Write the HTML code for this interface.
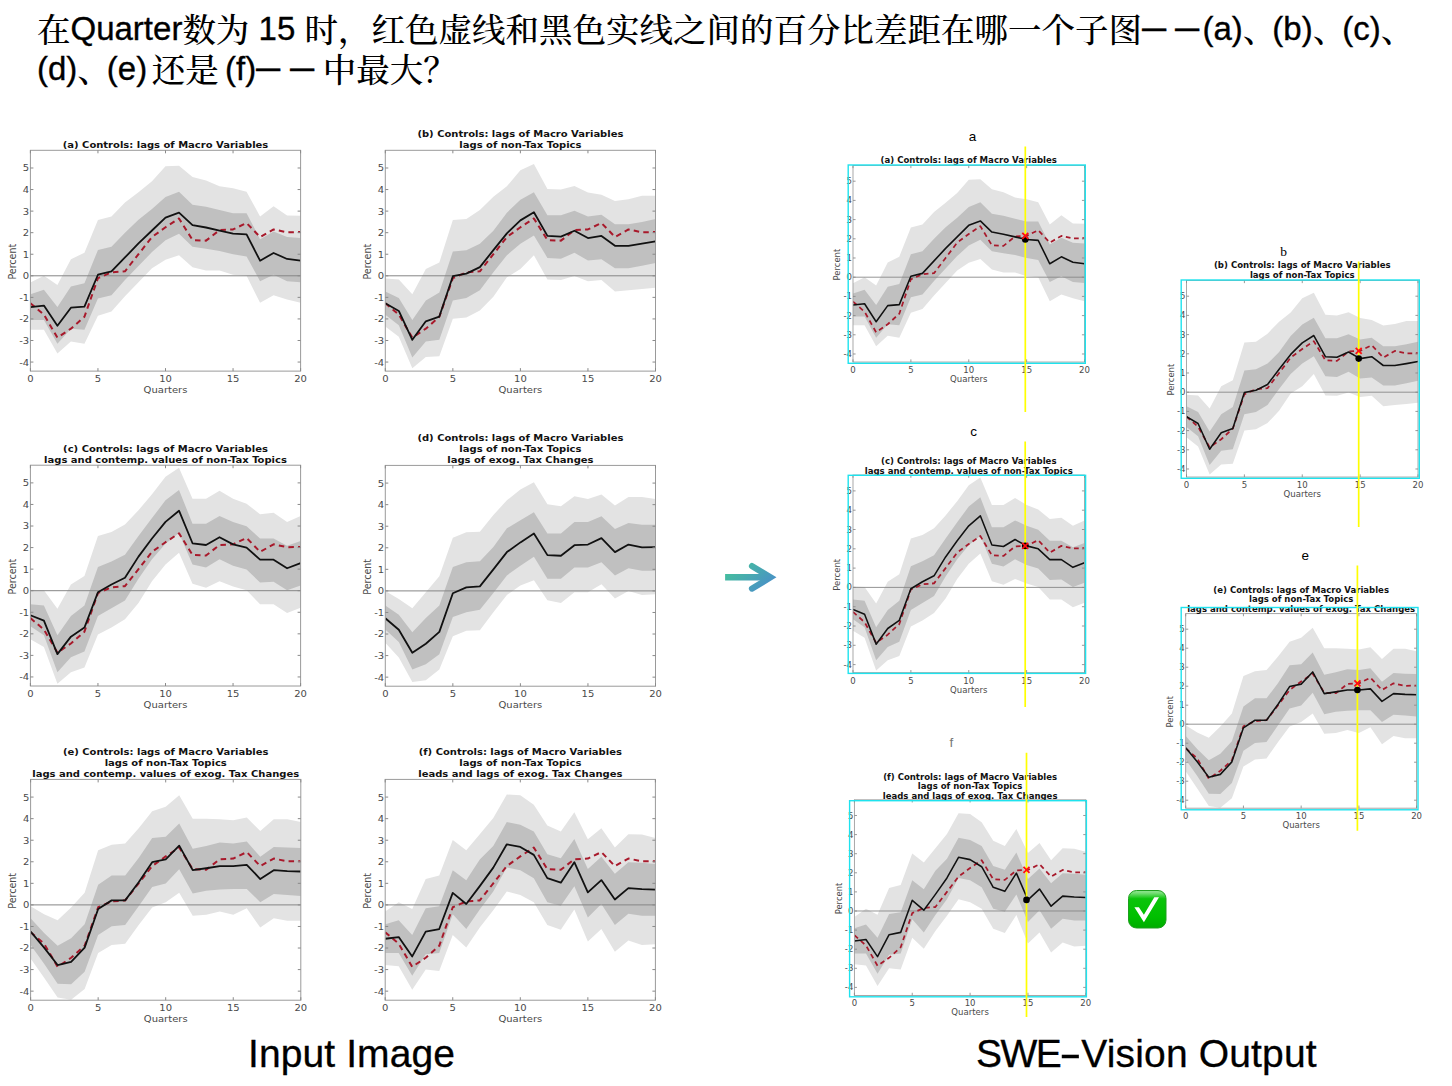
<!DOCTYPE html>
<html><head><meta charset="utf-8"><title>chart</title>
<style>
html,body{margin:0;padding:0;background:#fff;}
body{width:1452px;height:1086px;position:relative;overflow:hidden;}
.t{position:absolute;left:37px;font-family:"Liberation Sans","Noto Serif CJK SC",serif;font-size:33px;line-height:40px;color:#000;white-space:nowrap;-webkit-text-stroke:0.35px #000;}
.c{font-family:"Noto Serif CJK SC",serif;font-size:33.5px;font-weight:500;-webkit-text-stroke:0;position:relative;top:2.5px;}
.cm{display:inline-block;width:29.5px;overflow:visible;}
.dh{display:inline-block;}
.dh span{display:inline-block;transform:scaleX(0.735);transform-origin:0 0;position:relative;top:-1.5px;}
.hy{display:inline-block;width:21px;}
.hy span{display:inline-block;transform:scaleX(1.75);transform-origin:0 0;margin-left:-1px;}
.lab{position:absolute;top:1031.9px;font-family:"Liberation Sans",sans-serif;font-size:39px;line-height:44px;-webkit-text-stroke:0.3px #000;color:#000;white-space:nowrap;}
</style></head><body>
<svg width="1452" height="1086" viewBox="0 0 1452 1086" style="position:absolute;left:0;top:0">
<defs><linearGradient id="cg" x1="0" y1="0" x2="0" y2="1"><stop offset="0" stop-color="#8fe68f"/><stop offset="0.06" stop-color="#7cdf7c"/><stop offset="0.22" stop-color="#0bc40b"/><stop offset="0.7" stop-color="#00bf00"/><stop offset="1" stop-color="#00ad00"/></linearGradient><linearGradient id="ag" gradientUnits="userSpaceOnUse" x1="735" y1="560" x2="765" y2="595"><stop offset="0" stop-color="#45c39a"/><stop offset="1" stop-color="#4a8ccb"/></linearGradient></defs>
<g transform="translate(30.4,150.31)">
<clipPath id="cp0"><rect x="0" y="0" width="270.2" height="220.8"/></clipPath>
<g clip-path="url(#cp0)">
<polygon points="0.00,132.18 13.51,125.49 27.02,134.77 40.53,108.89 54.04,102.42 67.55,69.65 81.06,66.20 94.57,52.18 108.08,41.83 121.59,30.83 135.10,15.96 148.61,15.53 162.12,26.74 175.63,30.19 189.14,36.01 202.65,37.95 216.16,41.40 229.67,66.20 243.18,55.85 256.69,65.12 270.20,65.55 270.20,152.45 256.69,149.21 243.18,144.90 229.67,152.45 216.16,125.49 202.65,124.42 189.14,120.10 175.63,120.10 162.12,116.87 148.61,105.01 135.10,109.32 121.59,117.95 108.08,131.96 94.57,145.98 81.06,161.07 67.55,165.38 54.04,193.42 40.53,191.26 27.02,203.12 13.51,179.40 0.00,179.40" fill="#e3e3e3"/>
<polygon points="0.00,143.82 13.51,139.51 27.02,156.76 40.53,136.28 54.04,133.04 67.55,99.62 81.06,96.38 94.57,82.37 108.08,69.43 121.59,58.65 135.10,46.79 148.61,41.40 162.12,54.34 175.63,56.49 189.14,59.73 202.65,62.96 216.16,62.96 229.67,88.84 243.18,81.29 256.69,86.68 270.20,87.76 270.20,131.96 256.69,130.88 243.18,124.42 229.67,130.88 216.16,106.09 202.65,103.93 189.14,100.70 175.63,98.54 162.12,96.38 148.61,83.45 135.10,89.92 121.59,101.78 108.08,115.79 94.57,129.81 81.06,144.90 67.55,148.13 54.04,179.40 40.53,178.32 27.02,193.42 13.51,169.70 0.00,169.70" fill="#c0c0c0"/>
<line x1="0" y1="125.49" x2="270.2" y2="125.49" stroke="#858585" stroke-width="1"/>
<polyline points="0.00,152.88 13.51,164.31 27.02,187.38 40.53,178.32 54.04,166.46 67.55,127.87 81.06,122.04 94.57,120.97 108.08,103.93 121.59,86.68 135.10,76.98 148.61,68.14 162.12,89.70 175.63,90.35 189.14,79.78 202.65,79.13 216.16,72.67 229.67,86.68 243.18,79.13 256.69,81.94 270.20,81.72" fill="none" stroke="#a8192b" stroke-width="2" stroke-dasharray="5.5,4.2" stroke-linejoin="round"/>
<polyline points="0.00,156.76 13.51,155.25 27.02,175.52 40.53,157.41 54.04,156.33 67.55,124.42 81.06,121.18 94.57,107.17 108.08,93.15 121.59,80.21 135.10,67.28 148.61,62.32 162.12,74.82 175.63,77.19 189.14,80.21 202.65,83.23 216.16,84.09 229.67,110.40 243.18,102.64 256.69,108.67 270.20,110.40" fill="none" stroke="#111" stroke-width="1.8" stroke-linejoin="round"/>
</g>
<rect x="0" y="0" width="270.2" height="220.8" fill="none" stroke="#9a9a9a" stroke-width="1"/>
<path d="M0,211.74h3M270.2,211.74h-3M0,190.18h3M270.2,190.18h-3M0,168.62h3M270.2,168.62h-3M0,147.06h3M270.2,147.06h-3M0,125.49h3M270.2,125.49h-3M0,103.93h3M270.2,103.93h-3M0,82.37h3M270.2,82.37h-3M0,60.81h3M270.2,60.81h-3M0,39.24h3M270.2,39.24h-3M0,17.68h3M270.2,17.68h-3M0.00,220.8v-3M0.00,0v3M67.55,220.8v-3M67.55,0v3M135.10,220.8v-3M135.10,0v3M202.65,220.8v-3M202.65,0v3M270.20,220.8v-3M270.20,0v3" stroke="#8a8a8a" stroke-width="1" fill="none"/>
<g font-family="'DejaVu Sans', sans-serif" font-size="10" fill="#4a4a4a">
<text transform="translate(-1.2,215.19) scale(1,0.92)" text-anchor="end">-4</text>
<text transform="translate(-1.2,193.63) scale(1,0.92)" text-anchor="end">-3</text>
<text transform="translate(-1.2,172.07) scale(1,0.92)" text-anchor="end">-2</text>
<text transform="translate(-1.2,150.51) scale(1,0.92)" text-anchor="end">-1</text>
<text transform="translate(-1.2,128.94) scale(1,0.92)" text-anchor="end">0</text>
<text transform="translate(-1.2,107.38) scale(1,0.92)" text-anchor="end">1</text>
<text transform="translate(-1.2,85.82) scale(1,0.92)" text-anchor="end">2</text>
<text transform="translate(-1.2,64.26) scale(1,0.92)" text-anchor="end">3</text>
<text transform="translate(-1.2,42.69) scale(1,0.92)" text-anchor="end">4</text>
<text transform="translate(-1.2,21.13) scale(1,0.92)" text-anchor="end">5</text>
<text transform="translate(0.00,231.30) scale(1,0.92)" text-anchor="middle">0</text>
<text transform="translate(67.55,231.30) scale(1,0.92)" text-anchor="middle">5</text>
<text transform="translate(135.10,231.30) scale(1,0.92)" text-anchor="middle">10</text>
<text transform="translate(202.65,231.30) scale(1,0.92)" text-anchor="middle">15</text>
<text transform="translate(270.20,231.30) scale(1,0.92)" text-anchor="middle">20</text>
<text transform="translate(135.10,242.40) scale(1,0.92)" text-anchor="middle">Quarters</text>
<text transform="translate(-14.6,111.40) scale(1.0,0.95) rotate(-90)" text-anchor="middle">Percent</text>
</g>
<g font-family="'DejaVu Sans', sans-serif" font-size="10" font-weight="bold" fill="#111" text-anchor="middle">
<text transform="translate(135.10,-2.00) scale(1,0.92)">(a) Controls: lags of Macro Variables</text>
</g>
</g>
<g transform="translate(385.3,150.31)">
<clipPath id="cp1"><rect x="0" y="0" width="270.2" height="220.8"/></clipPath>
<g clip-path="url(#cp1)">
<polygon points="0.00,128.30 13.51,129.16 27.02,143.82 40.53,118.81 54.04,112.12 67.55,69.65 81.06,68.78 94.57,59.73 108.08,46.36 121.59,36.01 135.10,19.84 148.61,13.80 162.12,38.60 175.63,39.24 189.14,35.58 202.65,42.26 216.16,44.42 229.67,50.67 243.18,48.95 256.69,45.50 270.20,45.50 270.20,137.35 256.69,138.65 243.18,139.94 229.67,141.23 216.16,129.59 202.65,130.88 189.14,125.71 175.63,129.59 162.12,129.16 148.61,105.01 135.10,118.81 121.59,127.00 108.08,146.41 94.57,160.21 81.06,167.11 67.55,168.40 54.04,205.92 40.53,206.57 27.02,218.00 13.51,186.52 0.00,176.17" fill="#e3e3e3"/>
<polygon points="0.00,141.23 13.51,147.70 27.02,169.70 40.53,150.29 54.04,142.10 67.55,101.13 81.06,99.83 94.57,93.37 108.08,80.43 121.59,62.32 135.10,49.38 148.61,41.83 162.12,64.90 175.63,64.90 189.14,60.38 202.65,66.20 216.16,64.47 229.67,73.96 243.18,73.96 256.69,71.59 270.20,68.78 270.20,112.77 256.69,115.36 243.18,117.95 229.67,117.95 216.16,108.89 202.65,110.18 189.14,102.42 175.63,108.46 162.12,107.60 148.61,85.17 135.10,93.37 121.59,105.01 108.08,121.83 94.57,139.94 81.06,147.70 67.55,150.29 54.04,189.53 40.53,191.26 27.02,207.22 13.51,174.87 0.00,164.52" fill="#c0c0c0"/>
<line x1="0" y1="125.49" x2="270.2" y2="125.49" stroke="#858585" stroke-width="1"/>
<polyline points="0.00,152.88 13.51,164.31 27.02,187.38 40.53,178.32 54.04,166.46 67.55,127.87 81.06,122.04 94.57,120.97 108.08,103.93 121.59,86.68 135.10,76.98 148.61,68.14 162.12,89.70 175.63,90.35 189.14,79.78 202.65,79.13 216.16,72.67 229.67,86.68 243.18,79.13 256.69,81.94 270.20,81.72" fill="none" stroke="#a8192b" stroke-width="2" stroke-dasharray="5.5,4.2" stroke-linejoin="round"/>
<polyline points="0.00,152.88 13.51,160.64 27.02,189.53 40.53,170.99 54.04,166.25 67.55,125.92 81.06,123.34 94.57,116.87 108.08,99.83 121.59,83.02 135.10,70.08 148.61,61.88 162.12,85.60 175.63,86.25 189.14,80.43 202.65,87.76 216.16,85.60 229.67,95.52 243.18,95.52 256.69,93.37 270.20,90.99" fill="none" stroke="#111" stroke-width="1.8" stroke-linejoin="round"/>
</g>
<rect x="0" y="0" width="270.2" height="220.8" fill="none" stroke="#9a9a9a" stroke-width="1"/>
<path d="M0,211.74h3M270.2,211.74h-3M0,190.18h3M270.2,190.18h-3M0,168.62h3M270.2,168.62h-3M0,147.06h3M270.2,147.06h-3M0,125.49h3M270.2,125.49h-3M0,103.93h3M270.2,103.93h-3M0,82.37h3M270.2,82.37h-3M0,60.81h3M270.2,60.81h-3M0,39.24h3M270.2,39.24h-3M0,17.68h3M270.2,17.68h-3M0.00,220.8v-3M0.00,0v3M67.55,220.8v-3M67.55,0v3M135.10,220.8v-3M135.10,0v3M202.65,220.8v-3M202.65,0v3M270.20,220.8v-3M270.20,0v3" stroke="#8a8a8a" stroke-width="1" fill="none"/>
<g font-family="'DejaVu Sans', sans-serif" font-size="10" fill="#4a4a4a">
<text transform="translate(-1.2,215.19) scale(1,0.92)" text-anchor="end">-4</text>
<text transform="translate(-1.2,193.63) scale(1,0.92)" text-anchor="end">-3</text>
<text transform="translate(-1.2,172.07) scale(1,0.92)" text-anchor="end">-2</text>
<text transform="translate(-1.2,150.51) scale(1,0.92)" text-anchor="end">-1</text>
<text transform="translate(-1.2,128.94) scale(1,0.92)" text-anchor="end">0</text>
<text transform="translate(-1.2,107.38) scale(1,0.92)" text-anchor="end">1</text>
<text transform="translate(-1.2,85.82) scale(1,0.92)" text-anchor="end">2</text>
<text transform="translate(-1.2,64.26) scale(1,0.92)" text-anchor="end">3</text>
<text transform="translate(-1.2,42.69) scale(1,0.92)" text-anchor="end">4</text>
<text transform="translate(-1.2,21.13) scale(1,0.92)" text-anchor="end">5</text>
<text transform="translate(0.00,231.30) scale(1,0.92)" text-anchor="middle">0</text>
<text transform="translate(67.55,231.30) scale(1,0.92)" text-anchor="middle">5</text>
<text transform="translate(135.10,231.30) scale(1,0.92)" text-anchor="middle">10</text>
<text transform="translate(202.65,231.30) scale(1,0.92)" text-anchor="middle">15</text>
<text transform="translate(270.20,231.30) scale(1,0.92)" text-anchor="middle">20</text>
<text transform="translate(135.10,242.40) scale(1,0.92)" text-anchor="middle">Quarters</text>
<text transform="translate(-14.6,111.40) scale(1.0,0.95) rotate(-90)" text-anchor="middle">Percent</text>
</g>
<g font-family="'DejaVu Sans', sans-serif" font-size="10" font-weight="bold" fill="#111" text-anchor="middle">
<text transform="translate(135.10,-13.00) scale(1,0.92)">(b) Controls: lags of Macro Variables</text>
<text transform="translate(135.10,-2.00) scale(1,0.92)">lags of non-Tax Topics</text>
</g>
</g>
<g transform="translate(30.4,465.21)">
<clipPath id="cp2"><rect x="0" y="0" width="270.2" height="220.8"/></clipPath>
<g clip-path="url(#cp2)">
<polygon points="0.00,124.42 13.51,125.06 27.02,143.61 40.53,119.24 54.04,110.83 67.55,70.73 81.06,66.84 94.57,59.30 108.08,45.07 121.59,29.11 135.10,11.43 148.61,2.59 162.12,33.42 175.63,33.42 189.14,25.66 202.65,33.42 216.16,38.60 229.67,48.95 243.18,47.65 256.69,56.71 270.20,50.67 270.20,142.53 256.69,147.70 243.18,139.08 229.67,139.08 216.16,125.06 202.65,121.18 189.14,116.01 175.63,122.48 162.12,118.59 148.61,87.54 135.10,99.19 121.59,116.01 108.08,137.78 94.57,153.96 81.06,162.37 67.55,169.27 54.04,202.26 40.53,207.00 27.02,218.43 13.51,181.77 0.00,174.01" fill="#e3e3e3"/>
<polygon points="0.00,139.08 13.51,140.37 27.02,170.13 40.53,150.72 54.04,140.37 67.55,101.78 81.06,96.17 94.57,89.48 108.08,70.73 121.59,52.83 135.10,35.15 148.61,24.80 162.12,58.43 175.63,58.43 189.14,50.67 202.65,56.71 216.16,61.02 229.67,73.31 243.18,73.31 256.69,80.64 270.20,75.90 270.20,120.32 256.69,125.06 243.18,116.65 229.67,117.30 216.16,104.36 202.65,100.48 189.14,94.01 175.63,102.21 162.12,99.19 148.61,67.71 135.10,78.49 121.59,94.01 108.08,113.42 94.57,135.20 81.06,142.96 67.55,150.72 54.04,186.30 40.53,192.12 27.02,207.00 13.51,170.13 0.00,161.07" fill="#c0c0c0"/>
<line x1="0" y1="125.49" x2="270.2" y2="125.49" stroke="#858585" stroke-width="1"/>
<polyline points="0.00,152.88 13.51,164.31 27.02,187.38 40.53,178.32 54.04,166.46 67.55,127.87 81.06,122.04 94.57,120.97 108.08,103.93 121.59,86.68 135.10,76.98 148.61,68.14 162.12,89.70 175.63,90.35 189.14,79.78 202.65,79.13 216.16,72.67 229.67,86.68 243.18,79.13 256.69,81.94 270.20,81.72" fill="none" stroke="#a8192b" stroke-width="2" stroke-dasharray="5.5,4.2" stroke-linejoin="round"/>
<polyline points="0.00,150.07 13.51,155.47 27.02,188.89 40.53,171.42 54.04,162.37 67.55,127.00 81.06,119.24 94.57,112.56 108.08,91.43 121.59,73.31 135.10,56.71 148.61,45.50 162.12,78.06 175.63,79.78 189.14,72.02 202.65,79.13 216.16,82.37 229.67,94.44 243.18,94.44 256.69,103.07 270.20,97.89" fill="none" stroke="#111" stroke-width="1.8" stroke-linejoin="round"/>
</g>
<rect x="0" y="0" width="270.2" height="220.8" fill="none" stroke="#9a9a9a" stroke-width="1"/>
<path d="M0,211.74h3M270.2,211.74h-3M0,190.18h3M270.2,190.18h-3M0,168.62h3M270.2,168.62h-3M0,147.06h3M270.2,147.06h-3M0,125.49h3M270.2,125.49h-3M0,103.93h3M270.2,103.93h-3M0,82.37h3M270.2,82.37h-3M0,60.81h3M270.2,60.81h-3M0,39.24h3M270.2,39.24h-3M0,17.68h3M270.2,17.68h-3M0.00,220.8v-3M0.00,0v3M67.55,220.8v-3M67.55,0v3M135.10,220.8v-3M135.10,0v3M202.65,220.8v-3M202.65,0v3M270.20,220.8v-3M270.20,0v3" stroke="#8a8a8a" stroke-width="1" fill="none"/>
<g font-family="'DejaVu Sans', sans-serif" font-size="10" fill="#4a4a4a">
<text transform="translate(-1.2,215.19) scale(1,0.92)" text-anchor="end">-4</text>
<text transform="translate(-1.2,193.63) scale(1,0.92)" text-anchor="end">-3</text>
<text transform="translate(-1.2,172.07) scale(1,0.92)" text-anchor="end">-2</text>
<text transform="translate(-1.2,150.51) scale(1,0.92)" text-anchor="end">-1</text>
<text transform="translate(-1.2,128.94) scale(1,0.92)" text-anchor="end">0</text>
<text transform="translate(-1.2,107.38) scale(1,0.92)" text-anchor="end">1</text>
<text transform="translate(-1.2,85.82) scale(1,0.92)" text-anchor="end">2</text>
<text transform="translate(-1.2,64.26) scale(1,0.92)" text-anchor="end">3</text>
<text transform="translate(-1.2,42.69) scale(1,0.92)" text-anchor="end">4</text>
<text transform="translate(-1.2,21.13) scale(1,0.92)" text-anchor="end">5</text>
<text transform="translate(0.00,231.30) scale(1,0.92)" text-anchor="middle">0</text>
<text transform="translate(67.55,231.30) scale(1,0.92)" text-anchor="middle">5</text>
<text transform="translate(135.10,231.30) scale(1,0.92)" text-anchor="middle">10</text>
<text transform="translate(202.65,231.30) scale(1,0.92)" text-anchor="middle">15</text>
<text transform="translate(270.20,231.30) scale(1,0.92)" text-anchor="middle">20</text>
<text transform="translate(135.10,242.40) scale(1,0.92)" text-anchor="middle">Quarters</text>
<text transform="translate(-14.6,111.40) scale(1.0,0.95) rotate(-90)" text-anchor="middle">Percent</text>
</g>
<g font-family="'DejaVu Sans', sans-serif" font-size="10" font-weight="bold" fill="#111" text-anchor="middle">
<text transform="translate(135.10,-13.00) scale(1,0.92)">(c) Controls: lags of Macro Variables</text>
<text transform="translate(135.10,-2.00) scale(1,0.92)">lags and contemp. values of non-Tax Topics</text>
</g>
</g>
<g transform="translate(385.3,465.41)">
<clipPath id="cp3"><rect x="0" y="0" width="270.2" height="220.8"/></clipPath>
<g clip-path="url(#cp3)">
<polygon points="0.00,125.49 13.51,133.47 27.02,142.74 40.53,126.79 54.04,110.83 67.55,72.23 81.06,66.84 94.57,66.41 108.08,49.59 121.59,34.93 135.10,24.15 148.61,16.82 162.12,38.81 175.63,40.75 189.14,30.83 202.65,33.64 216.16,29.11 229.67,40.11 243.18,31.70 256.69,31.70 270.20,33.64 270.20,128.73 256.69,129.59 243.18,125.49 229.67,133.04 216.16,118.81 202.65,126.79 189.14,126.79 175.63,137.57 162.12,134.77 148.61,114.93 135.10,120.10 121.59,129.59 108.08,146.84 94.57,164.95 81.06,165.38 67.55,170.78 54.04,204.20 40.53,214.76 27.02,216.70 13.51,192.12 0.00,177.46" fill="#e3e3e3"/>
<polygon points="0.00,140.16 13.51,149.43 27.02,166.89 40.53,152.66 54.04,140.16 67.55,101.56 81.06,96.82 94.57,95.74 108.08,81.51 121.59,62.96 135.10,54.77 148.61,46.79 162.12,68.14 175.63,68.14 189.14,56.71 202.65,56.71 216.16,50.89 229.67,63.61 243.18,57.57 256.69,59.30 270.20,59.30 270.20,105.44 256.69,105.44 243.18,102.85 229.67,109.97 216.16,96.82 202.65,101.99 189.14,101.99 175.63,113.42 162.12,113.42 148.61,91.43 135.10,100.27 121.59,109.97 108.08,127.65 94.57,144.25 81.06,146.84 67.55,151.58 54.04,188.89 40.53,198.81 27.02,204.20 13.51,176.60 0.00,164.09" fill="#c0c0c0"/>
<line x1="0" y1="125.49" x2="270.2" y2="125.49" stroke="#858585" stroke-width="1"/>
<polyline points="0.00,152.88 13.51,164.31 27.02,187.38 40.53,178.32 54.04,166.46 67.55,127.87 81.06,122.04 94.57,120.97 108.08,103.93 121.59,86.68 135.10,76.98 148.61,68.14 162.12,89.70 175.63,90.35 189.14,79.78 202.65,79.13 216.16,72.67 229.67,86.68 243.18,79.13 256.69,81.94 270.20,81.72" fill="none" stroke="#111" stroke-width="1.8" stroke-linejoin="round"/>
</g>
<rect x="0" y="0" width="270.2" height="220.8" fill="none" stroke="#9a9a9a" stroke-width="1"/>
<path d="M0,211.74h3M270.2,211.74h-3M0,190.18h3M270.2,190.18h-3M0,168.62h3M270.2,168.62h-3M0,147.06h3M270.2,147.06h-3M0,125.49h3M270.2,125.49h-3M0,103.93h3M270.2,103.93h-3M0,82.37h3M270.2,82.37h-3M0,60.81h3M270.2,60.81h-3M0,39.24h3M270.2,39.24h-3M0,17.68h3M270.2,17.68h-3M0.00,220.8v-3M0.00,0v3M67.55,220.8v-3M67.55,0v3M135.10,220.8v-3M135.10,0v3M202.65,220.8v-3M202.65,0v3M270.20,220.8v-3M270.20,0v3" stroke="#8a8a8a" stroke-width="1" fill="none"/>
<g font-family="'DejaVu Sans', sans-serif" font-size="10" fill="#4a4a4a">
<text transform="translate(-1.2,215.19) scale(1,0.92)" text-anchor="end">-4</text>
<text transform="translate(-1.2,193.63) scale(1,0.92)" text-anchor="end">-3</text>
<text transform="translate(-1.2,172.07) scale(1,0.92)" text-anchor="end">-2</text>
<text transform="translate(-1.2,150.51) scale(1,0.92)" text-anchor="end">-1</text>
<text transform="translate(-1.2,128.94) scale(1,0.92)" text-anchor="end">0</text>
<text transform="translate(-1.2,107.38) scale(1,0.92)" text-anchor="end">1</text>
<text transform="translate(-1.2,85.82) scale(1,0.92)" text-anchor="end">2</text>
<text transform="translate(-1.2,64.26) scale(1,0.92)" text-anchor="end">3</text>
<text transform="translate(-1.2,42.69) scale(1,0.92)" text-anchor="end">4</text>
<text transform="translate(-1.2,21.13) scale(1,0.92)" text-anchor="end">5</text>
<text transform="translate(0.00,231.30) scale(1,0.92)" text-anchor="middle">0</text>
<text transform="translate(67.55,231.30) scale(1,0.92)" text-anchor="middle">5</text>
<text transform="translate(135.10,231.30) scale(1,0.92)" text-anchor="middle">10</text>
<text transform="translate(202.65,231.30) scale(1,0.92)" text-anchor="middle">15</text>
<text transform="translate(270.20,231.30) scale(1,0.92)" text-anchor="middle">20</text>
<text transform="translate(135.10,242.40) scale(1,0.92)" text-anchor="middle">Quarters</text>
<text transform="translate(-14.6,111.40) scale(1.0,0.95) rotate(-90)" text-anchor="middle">Percent</text>
</g>
<g font-family="'DejaVu Sans', sans-serif" font-size="10" font-weight="bold" fill="#111" text-anchor="middle">
<text transform="translate(135.10,-24.00) scale(1,0.92)">(d) Controls: lags of Macro Variables</text>
<text transform="translate(135.10,-13.00) scale(1,0.92)">lags of non-Tax Topics</text>
<text transform="translate(135.10,-2.00) scale(1,0.92)">lags of exog. Tax Changes</text>
</g>
</g>
<g transform="translate(30.6,779.41)">
<clipPath id="cp4"><rect x="0" y="0" width="270.2" height="220.8"/></clipPath>
<g clip-path="url(#cp4)">
<polygon points="0.00,126.79 13.51,134.77 27.02,140.80 40.53,128.08 54.04,113.42 67.55,70.73 81.06,65.33 94.57,64.04 108.08,48.73 121.59,31.91 135.10,27.38 148.61,15.96 162.12,39.24 175.63,39.24 189.14,39.89 202.65,40.75 216.16,38.17 229.67,51.53 243.18,39.89 256.69,39.89 270.20,42.69 270.20,141.45 256.69,141.45 243.18,138.86 229.67,148.13 216.16,128.94 202.65,135.41 189.14,132.18 175.63,135.41 162.12,136.28 148.61,113.42 135.10,122.91 121.59,128.08 108.08,145.55 94.57,164.31 81.06,165.60 67.55,173.58 54.04,209.59 40.53,220.37 27.02,218.21 13.51,198.37 0.00,178.97" fill="#e3e3e3"/>
<polygon points="0.00,138.86 13.51,153.53 27.02,166.46 40.53,158.92 54.04,144.90 67.55,105.44 81.06,96.17 94.57,96.17 108.08,78.70 121.59,58.65 135.10,57.36 148.61,43.99 162.12,69.43 175.63,66.63 189.14,63.18 202.65,64.04 216.16,62.10 229.67,77.41 243.18,67.49 256.69,68.14 270.20,68.57 270.20,116.65 256.69,115.58 243.18,114.71 229.67,122.91 216.16,109.54 202.65,109.54 189.14,110.18 175.63,111.26 162.12,114.07 148.61,89.92 135.10,104.15 121.59,107.60 108.08,126.79 94.57,145.55 81.06,146.84 67.55,155.68 54.04,192.34 40.53,204.84 27.02,204.41 13.51,184.36 0.00,165.60" fill="#c0c0c0"/>
<line x1="0" y1="125.49" x2="270.2" y2="125.49" stroke="#858585" stroke-width="1"/>
<polyline points="0.00,152.88 13.51,164.31 27.02,187.38 40.53,178.32 54.04,166.46 67.55,127.87 81.06,122.04 94.57,120.97 108.08,103.93 121.59,86.68 135.10,76.98 148.61,68.14 162.12,89.70 175.63,90.35 189.14,79.78 202.65,79.13 216.16,72.67 229.67,86.68 243.18,79.13 256.69,81.94 270.20,81.72" fill="none" stroke="#a8192b" stroke-width="2" stroke-dasharray="5.5,4.2" stroke-linejoin="round"/>
<polyline points="0.00,152.23 13.51,168.19 27.02,185.65 40.53,182.42 54.04,168.19 67.55,129.59 81.06,120.97 94.57,120.97 108.08,102.85 121.59,82.80 135.10,80.00 148.61,66.20 162.12,90.78 175.63,88.84 189.14,86.68 202.65,86.68 216.16,85.39 229.67,99.62 243.18,90.78 256.69,91.64 270.20,92.07" fill="none" stroke="#111" stroke-width="1.8" stroke-linejoin="round"/>
</g>
<rect x="0" y="0" width="270.2" height="220.8" fill="none" stroke="#9a9a9a" stroke-width="1"/>
<path d="M0,211.74h3M270.2,211.74h-3M0,190.18h3M270.2,190.18h-3M0,168.62h3M270.2,168.62h-3M0,147.06h3M270.2,147.06h-3M0,125.49h3M270.2,125.49h-3M0,103.93h3M270.2,103.93h-3M0,82.37h3M270.2,82.37h-3M0,60.81h3M270.2,60.81h-3M0,39.24h3M270.2,39.24h-3M0,17.68h3M270.2,17.68h-3M0.00,220.8v-3M0.00,0v3M67.55,220.8v-3M67.55,0v3M135.10,220.8v-3M135.10,0v3M202.65,220.8v-3M202.65,0v3M270.20,220.8v-3M270.20,0v3" stroke="#8a8a8a" stroke-width="1" fill="none"/>
<g font-family="'DejaVu Sans', sans-serif" font-size="10" fill="#4a4a4a">
<text transform="translate(-1.2,215.19) scale(1,0.92)" text-anchor="end">-4</text>
<text transform="translate(-1.2,193.63) scale(1,0.92)" text-anchor="end">-3</text>
<text transform="translate(-1.2,172.07) scale(1,0.92)" text-anchor="end">-2</text>
<text transform="translate(-1.2,150.51) scale(1,0.92)" text-anchor="end">-1</text>
<text transform="translate(-1.2,128.94) scale(1,0.92)" text-anchor="end">0</text>
<text transform="translate(-1.2,107.38) scale(1,0.92)" text-anchor="end">1</text>
<text transform="translate(-1.2,85.82) scale(1,0.92)" text-anchor="end">2</text>
<text transform="translate(-1.2,64.26) scale(1,0.92)" text-anchor="end">3</text>
<text transform="translate(-1.2,42.69) scale(1,0.92)" text-anchor="end">4</text>
<text transform="translate(-1.2,21.13) scale(1,0.92)" text-anchor="end">5</text>
<text transform="translate(0.00,231.30) scale(1,0.92)" text-anchor="middle">0</text>
<text transform="translate(67.55,231.30) scale(1,0.92)" text-anchor="middle">5</text>
<text transform="translate(135.10,231.30) scale(1,0.92)" text-anchor="middle">10</text>
<text transform="translate(202.65,231.30) scale(1,0.92)" text-anchor="middle">15</text>
<text transform="translate(270.20,231.30) scale(1,0.92)" text-anchor="middle">20</text>
<text transform="translate(135.10,242.40) scale(1,0.92)" text-anchor="middle">Quarters</text>
<text transform="translate(-14.6,111.40) scale(1.0,0.95) rotate(-90)" text-anchor="middle">Percent</text>
</g>
<g font-family="'DejaVu Sans', sans-serif" font-size="10" font-weight="bold" fill="#111" text-anchor="middle">
<text transform="translate(135.10,-24.00) scale(1,0.92)">(e) Controls: lags of Macro Variables</text>
<text transform="translate(135.10,-13.00) scale(1,0.92)">lags of non-Tax Topics</text>
<text transform="translate(135.10,-2.00) scale(1,0.92)">lags and contemp. values of exog. Tax Changes</text>
</g>
</g>
<g transform="translate(385.2,779.41)">
<clipPath id="cp5"><rect x="0" y="0" width="270.2" height="220.8"/></clipPath>
<g clip-path="url(#cp5)">
<polygon points="0.00,132.18 13.51,122.91 27.02,129.59 40.53,99.62 54.04,96.17 67.55,60.59 81.06,70.73 94.57,54.77 108.08,38.60 121.59,15.09 135.10,15.96 148.61,25.23 162.12,46.14 175.63,51.97 189.14,32.78 202.65,59.94 216.16,48.73 229.67,68.14 243.18,54.77 256.69,55.20 270.20,58.65 270.20,164.74 256.69,165.60 243.18,161.07 229.67,172.28 216.16,149.64 202.65,162.15 189.14,130.02 175.63,150.29 162.12,145.55 148.61,122.91 135.10,115.58 121.59,112.12 108.08,130.88 94.57,148.13 81.06,168.19 67.55,155.68 54.04,191.48 40.53,190.18 27.02,210.23 13.51,186.95 0.00,185.65" fill="#e3e3e3"/>
<polygon points="0.00,144.90 13.51,140.80 27.02,155.68 40.53,128.94 54.04,126.79 67.55,90.78 81.06,100.91 94.57,80.00 108.08,66.63 121.59,42.69 135.10,45.28 148.61,51.97 162.12,74.82 175.63,78.92 189.14,59.51 202.65,89.48 216.16,77.41 229.67,94.23 243.18,82.80 256.69,83.45 270.20,84.53 270.20,136.28 256.69,136.28 243.18,134.33 229.67,145.55 216.16,124.63 202.65,138.00 189.14,106.73 175.63,126.36 162.12,122.91 148.61,98.76 135.10,90.78 121.59,88.19 108.08,112.12 94.57,130.02 81.06,149.64 67.55,134.77 54.04,173.58 40.53,174.87 27.02,196.22 13.51,173.58 0.00,173.58" fill="#c0c0c0"/>
<line x1="0" y1="125.49" x2="270.2" y2="125.49" stroke="#858585" stroke-width="1"/>
<polyline points="0.00,152.88 13.51,164.31 27.02,187.38 40.53,178.32 54.04,166.46 67.55,127.87 81.06,122.04 94.57,120.97 108.08,103.93 121.59,86.68 135.10,76.98 148.61,68.14 162.12,89.70 175.63,90.35 189.14,79.78 202.65,79.13 216.16,72.67 229.67,86.68 243.18,79.13 256.69,81.94 270.20,81.72" fill="none" stroke="#a8192b" stroke-width="2" stroke-dasharray="5.5,4.2" stroke-linejoin="round"/>
<polyline points="0.00,159.35 13.51,157.62 27.02,177.03 40.53,152.23 54.04,149.64 67.55,113.42 81.06,124.63 94.57,106.73 108.08,88.19 121.59,64.90 135.10,67.49 148.61,75.47 162.12,98.76 175.63,103.28 189.14,82.80 202.65,112.99 216.16,100.70 229.67,120.10 243.18,108.67 256.69,109.75 270.20,110.18" fill="none" stroke="#111" stroke-width="1.8" stroke-linejoin="round"/>
</g>
<rect x="0" y="0" width="270.2" height="220.8" fill="none" stroke="#9a9a9a" stroke-width="1"/>
<path d="M0,211.74h3M270.2,211.74h-3M0,190.18h3M270.2,190.18h-3M0,168.62h3M270.2,168.62h-3M0,147.06h3M270.2,147.06h-3M0,125.49h3M270.2,125.49h-3M0,103.93h3M270.2,103.93h-3M0,82.37h3M270.2,82.37h-3M0,60.81h3M270.2,60.81h-3M0,39.24h3M270.2,39.24h-3M0,17.68h3M270.2,17.68h-3M0.00,220.8v-3M0.00,0v3M67.55,220.8v-3M67.55,0v3M135.10,220.8v-3M135.10,0v3M202.65,220.8v-3M202.65,0v3M270.20,220.8v-3M270.20,0v3" stroke="#8a8a8a" stroke-width="1" fill="none"/>
<g font-family="'DejaVu Sans', sans-serif" font-size="10" fill="#4a4a4a">
<text transform="translate(-1.2,215.19) scale(1,0.92)" text-anchor="end">-4</text>
<text transform="translate(-1.2,193.63) scale(1,0.92)" text-anchor="end">-3</text>
<text transform="translate(-1.2,172.07) scale(1,0.92)" text-anchor="end">-2</text>
<text transform="translate(-1.2,150.51) scale(1,0.92)" text-anchor="end">-1</text>
<text transform="translate(-1.2,128.94) scale(1,0.92)" text-anchor="end">0</text>
<text transform="translate(-1.2,107.38) scale(1,0.92)" text-anchor="end">1</text>
<text transform="translate(-1.2,85.82) scale(1,0.92)" text-anchor="end">2</text>
<text transform="translate(-1.2,64.26) scale(1,0.92)" text-anchor="end">3</text>
<text transform="translate(-1.2,42.69) scale(1,0.92)" text-anchor="end">4</text>
<text transform="translate(-1.2,21.13) scale(1,0.92)" text-anchor="end">5</text>
<text transform="translate(0.00,231.30) scale(1,0.92)" text-anchor="middle">0</text>
<text transform="translate(67.55,231.30) scale(1,0.92)" text-anchor="middle">5</text>
<text transform="translate(135.10,231.30) scale(1,0.92)" text-anchor="middle">10</text>
<text transform="translate(202.65,231.30) scale(1,0.92)" text-anchor="middle">15</text>
<text transform="translate(270.20,231.30) scale(1,0.92)" text-anchor="middle">20</text>
<text transform="translate(135.10,242.40) scale(1,0.92)" text-anchor="middle">Quarters</text>
<text transform="translate(-14.6,111.40) scale(1.0,0.95) rotate(-90)" text-anchor="middle">Percent</text>
</g>
<g font-family="'DejaVu Sans', sans-serif" font-size="10" font-weight="bold" fill="#111" text-anchor="middle">
<text transform="translate(135.10,-24.00) scale(1,0.92)">(f) Controls: lags of Macro Variables</text>
<text transform="translate(135.10,-13.00) scale(1,0.92)">lags of non-Tax Topics</text>
<text transform="translate(135.10,-2.00) scale(1,0.92)">leads and lags of exog. Tax Changes</text>
</g>
</g>
<g transform="translate(853.0,165.46) scale(0.8568,0.8904)">
<clipPath id="cp6"><rect x="0" y="0" width="270.2" height="220.8"/></clipPath>
<g clip-path="url(#cp6)">
<polygon points="0.00,132.18 13.51,125.49 27.02,134.77 40.53,108.89 54.04,102.42 67.55,69.65 81.06,66.20 94.57,52.18 108.08,41.83 121.59,30.83 135.10,15.96 148.61,15.53 162.12,26.74 175.63,30.19 189.14,36.01 202.65,37.95 216.16,41.40 229.67,66.20 243.18,55.85 256.69,65.12 270.20,65.55 270.20,152.45 256.69,149.21 243.18,144.90 229.67,152.45 216.16,125.49 202.65,124.42 189.14,120.10 175.63,120.10 162.12,116.87 148.61,105.01 135.10,109.32 121.59,117.95 108.08,131.96 94.57,145.98 81.06,161.07 67.55,165.38 54.04,193.42 40.53,191.26 27.02,203.12 13.51,179.40 0.00,179.40" fill="#e3e3e3"/>
<polygon points="0.00,143.82 13.51,139.51 27.02,156.76 40.53,136.28 54.04,133.04 67.55,99.62 81.06,96.38 94.57,82.37 108.08,69.43 121.59,58.65 135.10,46.79 148.61,41.40 162.12,54.34 175.63,56.49 189.14,59.73 202.65,62.96 216.16,62.96 229.67,88.84 243.18,81.29 256.69,86.68 270.20,87.76 270.20,131.96 256.69,130.88 243.18,124.42 229.67,130.88 216.16,106.09 202.65,103.93 189.14,100.70 175.63,98.54 162.12,96.38 148.61,83.45 135.10,89.92 121.59,101.78 108.08,115.79 94.57,129.81 81.06,144.90 67.55,148.13 54.04,179.40 40.53,178.32 27.02,193.42 13.51,169.70 0.00,169.70" fill="#c0c0c0"/>
<line x1="0" y1="125.49" x2="270.2" y2="125.49" stroke="#858585" stroke-width="1"/>
<polyline points="0.00,152.88 13.51,164.31 27.02,187.38 40.53,178.32 54.04,166.46 67.55,127.87 81.06,122.04 94.57,120.97 108.08,103.93 121.59,86.68 135.10,76.98 148.61,68.14 162.12,89.70 175.63,90.35 189.14,79.78 202.65,79.13 216.16,72.67 229.67,86.68 243.18,79.13 256.69,81.94 270.20,81.72" fill="none" stroke="#a8192b" stroke-width="2" stroke-dasharray="5.5,4.2" stroke-linejoin="round"/>
<polyline points="0.00,156.76 13.51,155.25 27.02,175.52 40.53,157.41 54.04,156.33 67.55,124.42 81.06,121.18 94.57,107.17 108.08,93.15 121.59,80.21 135.10,67.28 148.61,62.32 162.12,74.82 175.63,77.19 189.14,80.21 202.65,83.23 216.16,84.09 229.67,110.40 243.18,102.64 256.69,108.67 270.20,110.40" fill="none" stroke="#111" stroke-width="1.8" stroke-linejoin="round"/>
</g>
<rect x="0" y="0" width="270.2" height="220.8" fill="none" stroke="#9a9a9a" stroke-width="1"/>
<path d="M0,211.74h3M270.2,211.74h-3M0,190.18h3M270.2,190.18h-3M0,168.62h3M270.2,168.62h-3M0,147.06h3M270.2,147.06h-3M0,125.49h3M270.2,125.49h-3M0,103.93h3M270.2,103.93h-3M0,82.37h3M270.2,82.37h-3M0,60.81h3M270.2,60.81h-3M0,39.24h3M270.2,39.24h-3M0,17.68h3M270.2,17.68h-3M0.00,220.8v-3M0.00,0v3M67.55,220.8v-3M67.55,0v3M135.10,220.8v-3M135.10,0v3M202.65,220.8v-3M202.65,0v3M270.20,220.8v-3M270.20,0v3" stroke="#8a8a8a" stroke-width="1" fill="none"/>
<g font-family="'DejaVu Sans', sans-serif" font-size="10" fill="#4a4a4a">
<text transform="translate(-1.2,215.19) scale(1,0.92)" text-anchor="end">-4</text>
<text transform="translate(-1.2,193.63) scale(1,0.92)" text-anchor="end">-3</text>
<text transform="translate(-1.2,172.07) scale(1,0.92)" text-anchor="end">-2</text>
<text transform="translate(-1.2,150.51) scale(1,0.92)" text-anchor="end">-1</text>
<text transform="translate(-1.2,128.94) scale(1,0.92)" text-anchor="end">0</text>
<text transform="translate(-1.2,107.38) scale(1,0.92)" text-anchor="end">1</text>
<text transform="translate(-1.2,85.82) scale(1,0.92)" text-anchor="end">2</text>
<text transform="translate(-1.2,64.26) scale(1,0.92)" text-anchor="end">3</text>
<text transform="translate(-1.2,42.69) scale(1,0.92)" text-anchor="end">4</text>
<text transform="translate(-1.2,21.13) scale(1,0.92)" text-anchor="end">5</text>
<text transform="translate(0.00,233.10) scale(1,0.92)" text-anchor="middle">0</text>
<text transform="translate(67.55,233.10) scale(1,0.92)" text-anchor="middle">5</text>
<text transform="translate(135.10,233.10) scale(1,0.92)" text-anchor="middle">10</text>
<text transform="translate(202.65,233.10) scale(1,0.92)" text-anchor="middle">15</text>
<text transform="translate(270.20,233.10) scale(1,0.92)" text-anchor="middle">20</text>
<text transform="translate(135.10,243.10) scale(1,0.92)" text-anchor="middle">Quarters</text>
<text transform="translate(-14.6,111.40) scale(1.0,0.95) rotate(-90)" text-anchor="middle">Percent</text>
</g>
<g font-family="'DejaVu Sans', sans-serif" font-size="10" font-weight="bold" fill="#111" text-anchor="middle">
<text transform="translate(135.10,-3.30) scale(1,0.92)">(a) Controls: lags of Macro Variables</text>
</g>
</g>
<rect x="848.2" y="165.0" width="237.1" height="198.3" fill="none" stroke="#1ee3ee" stroke-width="1.4"/>
<line x1="1025.3" y1="146.4" x2="1025.3" y2="412.0" stroke="#ffff00" stroke-width="1.7"/>
<circle cx="1025.30" cy="239.57" r="3.3" fill="#000"/>
<path d="M1022.30,232.92l6,6M1022.30,238.92l6,-6" stroke="#ff1010" stroke-width="1.8"/>
<text x="972.5" y="141.0" text-anchor="middle" font-family="'Liberation Sans', sans-serif" font-size="13.5" fill="#000">a</text>
<g transform="translate(1186.5,280.46) scale(0.8568,0.8904)">
<clipPath id="cp7"><rect x="0" y="0" width="270.2" height="220.8"/></clipPath>
<g clip-path="url(#cp7)">
<polygon points="0.00,128.30 13.51,129.16 27.02,143.82 40.53,118.81 54.04,112.12 67.55,69.65 81.06,68.78 94.57,59.73 108.08,46.36 121.59,36.01 135.10,19.84 148.61,13.80 162.12,38.60 175.63,39.24 189.14,35.58 202.65,42.26 216.16,44.42 229.67,50.67 243.18,48.95 256.69,45.50 270.20,45.50 270.20,137.35 256.69,138.65 243.18,139.94 229.67,141.23 216.16,129.59 202.65,130.88 189.14,125.71 175.63,129.59 162.12,129.16 148.61,105.01 135.10,118.81 121.59,127.00 108.08,146.41 94.57,160.21 81.06,167.11 67.55,168.40 54.04,205.92 40.53,206.57 27.02,218.00 13.51,186.52 0.00,176.17" fill="#e3e3e3"/>
<polygon points="0.00,141.23 13.51,147.70 27.02,169.70 40.53,150.29 54.04,142.10 67.55,101.13 81.06,99.83 94.57,93.37 108.08,80.43 121.59,62.32 135.10,49.38 148.61,41.83 162.12,64.90 175.63,64.90 189.14,60.38 202.65,66.20 216.16,64.47 229.67,73.96 243.18,73.96 256.69,71.59 270.20,68.78 270.20,112.77 256.69,115.36 243.18,117.95 229.67,117.95 216.16,108.89 202.65,110.18 189.14,102.42 175.63,108.46 162.12,107.60 148.61,85.17 135.10,93.37 121.59,105.01 108.08,121.83 94.57,139.94 81.06,147.70 67.55,150.29 54.04,189.53 40.53,191.26 27.02,207.22 13.51,174.87 0.00,164.52" fill="#c0c0c0"/>
<line x1="0" y1="125.49" x2="270.2" y2="125.49" stroke="#858585" stroke-width="1"/>
<polyline points="0.00,152.88 13.51,164.31 27.02,187.38 40.53,178.32 54.04,166.46 67.55,127.87 81.06,122.04 94.57,120.97 108.08,103.93 121.59,86.68 135.10,76.98 148.61,68.14 162.12,89.70 175.63,90.35 189.14,79.78 202.65,79.13 216.16,72.67 229.67,86.68 243.18,79.13 256.69,81.94 270.20,81.72" fill="none" stroke="#a8192b" stroke-width="2" stroke-dasharray="5.5,4.2" stroke-linejoin="round"/>
<polyline points="0.00,152.88 13.51,160.64 27.02,189.53 40.53,170.99 54.04,166.25 67.55,125.92 81.06,123.34 94.57,116.87 108.08,99.83 121.59,83.02 135.10,70.08 148.61,61.88 162.12,85.60 175.63,86.25 189.14,80.43 202.65,87.76 216.16,85.60 229.67,95.52 243.18,95.52 256.69,93.37 270.20,90.99" fill="none" stroke="#111" stroke-width="1.8" stroke-linejoin="round"/>
</g>
<rect x="0" y="0" width="270.2" height="220.8" fill="none" stroke="#9a9a9a" stroke-width="1"/>
<path d="M0,211.74h3M270.2,211.74h-3M0,190.18h3M270.2,190.18h-3M0,168.62h3M270.2,168.62h-3M0,147.06h3M270.2,147.06h-3M0,125.49h3M270.2,125.49h-3M0,103.93h3M270.2,103.93h-3M0,82.37h3M270.2,82.37h-3M0,60.81h3M270.2,60.81h-3M0,39.24h3M270.2,39.24h-3M0,17.68h3M270.2,17.68h-3M0.00,220.8v-3M0.00,0v3M67.55,220.8v-3M67.55,0v3M135.10,220.8v-3M135.10,0v3M202.65,220.8v-3M202.65,0v3M270.20,220.8v-3M270.20,0v3" stroke="#8a8a8a" stroke-width="1" fill="none"/>
<g font-family="'DejaVu Sans', sans-serif" font-size="10" fill="#4a4a4a">
<text transform="translate(-1.2,215.19) scale(1,0.92)" text-anchor="end">-4</text>
<text transform="translate(-1.2,193.63) scale(1,0.92)" text-anchor="end">-3</text>
<text transform="translate(-1.2,172.07) scale(1,0.92)" text-anchor="end">-2</text>
<text transform="translate(-1.2,150.51) scale(1,0.92)" text-anchor="end">-1</text>
<text transform="translate(-1.2,128.94) scale(1,0.92)" text-anchor="end">0</text>
<text transform="translate(-1.2,107.38) scale(1,0.92)" text-anchor="end">1</text>
<text transform="translate(-1.2,85.82) scale(1,0.92)" text-anchor="end">2</text>
<text transform="translate(-1.2,64.26) scale(1,0.92)" text-anchor="end">3</text>
<text transform="translate(-1.2,42.69) scale(1,0.92)" text-anchor="end">4</text>
<text transform="translate(-1.2,21.13) scale(1,0.92)" text-anchor="end">5</text>
<text transform="translate(0.00,233.10) scale(1,0.92)" text-anchor="middle">0</text>
<text transform="translate(67.55,233.10) scale(1,0.92)" text-anchor="middle">5</text>
<text transform="translate(135.10,233.10) scale(1,0.92)" text-anchor="middle">10</text>
<text transform="translate(202.65,233.10) scale(1,0.92)" text-anchor="middle">15</text>
<text transform="translate(270.20,233.10) scale(1,0.92)" text-anchor="middle">20</text>
<text transform="translate(135.10,243.10) scale(1,0.92)" text-anchor="middle">Quarters</text>
<text transform="translate(-14.6,111.40) scale(1.0,0.95) rotate(-90)" text-anchor="middle">Percent</text>
</g>
<g font-family="'DejaVu Sans', sans-serif" font-size="10" font-weight="bold" fill="#111" text-anchor="middle">
<text transform="translate(135.10,-13.70) scale(1,0.92)">(b) Controls: lags of Macro Variables</text>
<text transform="translate(135.10,-2.70) scale(1,0.92)">lags of non-Tax Topics</text>
</g>
</g>
<rect x="1181.2" y="280.0" width="238.1" height="198.3" fill="none" stroke="#1ee3ee" stroke-width="1.4"/>
<line x1="1358.7" y1="261.4" x2="1358.7" y2="527.0" stroke="#ffff00" stroke-width="1.7"/>
<circle cx="1358.70" cy="358.60" r="3.3" fill="#000"/>
<path d="M1355.70,347.92l6,6M1355.70,353.92l6,-6" stroke="#ff1010" stroke-width="1.8"/>
<text x="1283.5" y="256.0" text-anchor="middle" font-family="'Liberation Serif', serif" font-size="13.5" fill="#000">b</text>
<g transform="translate(853.0,475.07) scale(0.8568,0.8951)">
<clipPath id="cp8"><rect x="0" y="0" width="270.2" height="220.8"/></clipPath>
<g clip-path="url(#cp8)">
<polygon points="0.00,124.42 13.51,125.06 27.02,143.61 40.53,119.24 54.04,110.83 67.55,70.73 81.06,66.84 94.57,59.30 108.08,45.07 121.59,29.11 135.10,11.43 148.61,2.59 162.12,33.42 175.63,33.42 189.14,25.66 202.65,33.42 216.16,38.60 229.67,48.95 243.18,47.65 256.69,56.71 270.20,50.67 270.20,142.53 256.69,147.70 243.18,139.08 229.67,139.08 216.16,125.06 202.65,121.18 189.14,116.01 175.63,122.48 162.12,118.59 148.61,87.54 135.10,99.19 121.59,116.01 108.08,137.78 94.57,153.96 81.06,162.37 67.55,169.27 54.04,202.26 40.53,207.00 27.02,218.43 13.51,181.77 0.00,174.01" fill="#e3e3e3"/>
<polygon points="0.00,139.08 13.51,140.37 27.02,170.13 40.53,150.72 54.04,140.37 67.55,101.78 81.06,96.17 94.57,89.48 108.08,70.73 121.59,52.83 135.10,35.15 148.61,24.80 162.12,58.43 175.63,58.43 189.14,50.67 202.65,56.71 216.16,61.02 229.67,73.31 243.18,73.31 256.69,80.64 270.20,75.90 270.20,120.32 256.69,125.06 243.18,116.65 229.67,117.30 216.16,104.36 202.65,100.48 189.14,94.01 175.63,102.21 162.12,99.19 148.61,67.71 135.10,78.49 121.59,94.01 108.08,113.42 94.57,135.20 81.06,142.96 67.55,150.72 54.04,186.30 40.53,192.12 27.02,207.00 13.51,170.13 0.00,161.07" fill="#c0c0c0"/>
<line x1="0" y1="125.49" x2="270.2" y2="125.49" stroke="#858585" stroke-width="1"/>
<polyline points="0.00,152.88 13.51,164.31 27.02,187.38 40.53,178.32 54.04,166.46 67.55,127.87 81.06,122.04 94.57,120.97 108.08,103.93 121.59,86.68 135.10,76.98 148.61,68.14 162.12,89.70 175.63,90.35 189.14,79.78 202.65,79.13 216.16,72.67 229.67,86.68 243.18,79.13 256.69,81.94 270.20,81.72" fill="none" stroke="#a8192b" stroke-width="2" stroke-dasharray="5.5,4.2" stroke-linejoin="round"/>
<polyline points="0.00,150.07 13.51,155.47 27.02,188.89 40.53,171.42 54.04,162.37 67.55,127.00 81.06,119.24 94.57,112.56 108.08,91.43 121.59,73.31 135.10,56.71 148.61,45.50 162.12,78.06 175.63,79.78 189.14,72.02 202.65,79.13 216.16,82.37 229.67,94.44 243.18,94.44 256.69,103.07 270.20,97.89" fill="none" stroke="#111" stroke-width="1.8" stroke-linejoin="round"/>
</g>
<rect x="0" y="0" width="270.2" height="220.8" fill="none" stroke="#9a9a9a" stroke-width="1"/>
<path d="M0,211.74h3M270.2,211.74h-3M0,190.18h3M270.2,190.18h-3M0,168.62h3M270.2,168.62h-3M0,147.06h3M270.2,147.06h-3M0,125.49h3M270.2,125.49h-3M0,103.93h3M270.2,103.93h-3M0,82.37h3M270.2,82.37h-3M0,60.81h3M270.2,60.81h-3M0,39.24h3M270.2,39.24h-3M0,17.68h3M270.2,17.68h-3M0.00,220.8v-3M0.00,0v3M67.55,220.8v-3M67.55,0v3M135.10,220.8v-3M135.10,0v3M202.65,220.8v-3M202.65,0v3M270.20,220.8v-3M270.20,0v3" stroke="#8a8a8a" stroke-width="1" fill="none"/>
<g font-family="'DejaVu Sans', sans-serif" font-size="10" fill="#4a4a4a">
<text transform="translate(-1.2,215.19) scale(1,0.92)" text-anchor="end">-4</text>
<text transform="translate(-1.2,193.63) scale(1,0.92)" text-anchor="end">-3</text>
<text transform="translate(-1.2,172.07) scale(1,0.92)" text-anchor="end">-2</text>
<text transform="translate(-1.2,150.51) scale(1,0.92)" text-anchor="end">-1</text>
<text transform="translate(-1.2,128.94) scale(1,0.92)" text-anchor="end">0</text>
<text transform="translate(-1.2,107.38) scale(1,0.92)" text-anchor="end">1</text>
<text transform="translate(-1.2,85.82) scale(1,0.92)" text-anchor="end">2</text>
<text transform="translate(-1.2,64.26) scale(1,0.92)" text-anchor="end">3</text>
<text transform="translate(-1.2,42.69) scale(1,0.92)" text-anchor="end">4</text>
<text transform="translate(-1.2,21.13) scale(1,0.92)" text-anchor="end">5</text>
<text transform="translate(0.00,233.10) scale(1,0.92)" text-anchor="middle">0</text>
<text transform="translate(67.55,233.10) scale(1,0.92)" text-anchor="middle">5</text>
<text transform="translate(135.10,233.10) scale(1,0.92)" text-anchor="middle">10</text>
<text transform="translate(202.65,233.10) scale(1,0.92)" text-anchor="middle">15</text>
<text transform="translate(270.20,233.10) scale(1,0.92)" text-anchor="middle">20</text>
<text transform="translate(135.10,243.10) scale(1,0.92)" text-anchor="middle">Quarters</text>
<text transform="translate(-14.6,111.40) scale(1.0,0.95) rotate(-90)" text-anchor="middle">Percent</text>
</g>
<g font-family="'DejaVu Sans', sans-serif" font-size="10" font-weight="bold" fill="#111" text-anchor="middle">
<text transform="translate(135.10,-12.40) scale(1,0.92)">(c) Controls: lags of Macro Variables</text>
<text transform="translate(135.10,-1.40) scale(1,0.92)">lags and contemp. values of non-Tax Topics</text>
</g>
</g>
<rect x="848.2" y="475.3" width="237.4" height="198.1" fill="none" stroke="#1ee3ee" stroke-width="1.4"/>
<line x1="1025.2" y1="441.4" x2="1025.2" y2="707.0" stroke="#ffff00" stroke-width="1.7"/>
<circle cx="1025.20" cy="545.90" r="3.3" fill="#000"/>
<path d="M1022.20,542.90l6,6M1022.20,548.90l6,-6" stroke="#ff1010" stroke-width="1.8"/>
<text x="973.5" y="436.0" text-anchor="middle" font-family="'Liberation Sans', sans-serif" font-size="13.5" fill="#000">c</text>
<g transform="translate(1185.7,613.62) scale(0.8546,0.8812)">
<clipPath id="cp9"><rect x="0" y="0" width="270.2" height="220.8"/></clipPath>
<g clip-path="url(#cp9)">
<polygon points="0.00,126.79 13.51,134.77 27.02,140.80 40.53,128.08 54.04,113.42 67.55,70.73 81.06,65.33 94.57,64.04 108.08,48.73 121.59,31.91 135.10,27.38 148.61,15.96 162.12,39.24 175.63,39.24 189.14,39.89 202.65,40.75 216.16,38.17 229.67,51.53 243.18,39.89 256.69,39.89 270.20,42.69 270.20,141.45 256.69,141.45 243.18,138.86 229.67,148.13 216.16,128.94 202.65,135.41 189.14,132.18 175.63,135.41 162.12,136.28 148.61,113.42 135.10,122.91 121.59,128.08 108.08,145.55 94.57,164.31 81.06,165.60 67.55,173.58 54.04,209.59 40.53,220.37 27.02,218.21 13.51,198.37 0.00,178.97" fill="#e3e3e3"/>
<polygon points="0.00,138.86 13.51,153.53 27.02,166.46 40.53,158.92 54.04,144.90 67.55,105.44 81.06,96.17 94.57,96.17 108.08,78.70 121.59,58.65 135.10,57.36 148.61,43.99 162.12,69.43 175.63,66.63 189.14,63.18 202.65,64.04 216.16,62.10 229.67,77.41 243.18,67.49 256.69,68.14 270.20,68.57 270.20,116.65 256.69,115.58 243.18,114.71 229.67,122.91 216.16,109.54 202.65,109.54 189.14,110.18 175.63,111.26 162.12,114.07 148.61,89.92 135.10,104.15 121.59,107.60 108.08,126.79 94.57,145.55 81.06,146.84 67.55,155.68 54.04,192.34 40.53,204.84 27.02,204.41 13.51,184.36 0.00,165.60" fill="#c0c0c0"/>
<line x1="0" y1="125.49" x2="270.2" y2="125.49" stroke="#858585" stroke-width="1"/>
<polyline points="0.00,152.88 13.51,164.31 27.02,187.38 40.53,178.32 54.04,166.46 67.55,127.87 81.06,122.04 94.57,120.97 108.08,103.93 121.59,86.68 135.10,76.98 148.61,68.14 162.12,89.70 175.63,90.35 189.14,79.78 202.65,79.13 216.16,72.67 229.67,86.68 243.18,79.13 256.69,81.94 270.20,81.72" fill="none" stroke="#a8192b" stroke-width="2" stroke-dasharray="5.5,4.2" stroke-linejoin="round"/>
<polyline points="0.00,152.23 13.51,168.19 27.02,185.65 40.53,182.42 54.04,168.19 67.55,129.59 81.06,120.97 94.57,120.97 108.08,102.85 121.59,82.80 135.10,80.00 148.61,66.20 162.12,90.78 175.63,88.84 189.14,86.68 202.65,86.68 216.16,85.39 229.67,99.62 243.18,90.78 256.69,91.64 270.20,92.07" fill="none" stroke="#111" stroke-width="1.8" stroke-linejoin="round"/>
</g>
<rect x="0" y="0" width="270.2" height="220.8" fill="none" stroke="#9a9a9a" stroke-width="1"/>
<path d="M0,211.74h3M270.2,211.74h-3M0,190.18h3M270.2,190.18h-3M0,168.62h3M270.2,168.62h-3M0,147.06h3M270.2,147.06h-3M0,125.49h3M270.2,125.49h-3M0,103.93h3M270.2,103.93h-3M0,82.37h3M270.2,82.37h-3M0,60.81h3M270.2,60.81h-3M0,39.24h3M270.2,39.24h-3M0,17.68h3M270.2,17.68h-3M0.00,220.8v-3M0.00,0v3M67.55,220.8v-3M67.55,0v3M135.10,220.8v-3M135.10,0v3M202.65,220.8v-3M202.65,0v3M270.20,220.8v-3M270.20,0v3" stroke="#8a8a8a" stroke-width="1" fill="none"/>
<g font-family="'DejaVu Sans', sans-serif" font-size="10" fill="#4a4a4a">
<text transform="translate(-1.2,215.19) scale(1,0.92)" text-anchor="end">-4</text>
<text transform="translate(-1.2,193.63) scale(1,0.92)" text-anchor="end">-3</text>
<text transform="translate(-1.2,172.07) scale(1,0.92)" text-anchor="end">-2</text>
<text transform="translate(-1.2,150.51) scale(1,0.92)" text-anchor="end">-1</text>
<text transform="translate(-1.2,128.94) scale(1,0.92)" text-anchor="end">0</text>
<text transform="translate(-1.2,107.38) scale(1,0.92)" text-anchor="end">1</text>
<text transform="translate(-1.2,85.82) scale(1,0.92)" text-anchor="end">2</text>
<text transform="translate(-1.2,64.26) scale(1,0.92)" text-anchor="end">3</text>
<text transform="translate(-1.2,42.69) scale(1,0.92)" text-anchor="end">4</text>
<text transform="translate(-1.2,21.13) scale(1,0.92)" text-anchor="end">5</text>
<text transform="translate(0.00,233.10) scale(1,0.92)" text-anchor="middle">0</text>
<text transform="translate(67.55,233.10) scale(1,0.92)" text-anchor="middle">5</text>
<text transform="translate(135.10,233.10) scale(1,0.92)" text-anchor="middle">10</text>
<text transform="translate(202.65,233.10) scale(1,0.92)" text-anchor="middle">15</text>
<text transform="translate(270.20,233.10) scale(1,0.92)" text-anchor="middle">20</text>
<text transform="translate(135.10,243.10) scale(1,0.92)" text-anchor="middle">Quarters</text>
<text transform="translate(-14.6,111.40) scale(1.0,0.95) rotate(-90)" text-anchor="middle">Percent</text>
</g>
<g font-family="'DejaVu Sans', sans-serif" font-size="10" font-weight="bold" fill="#111" text-anchor="middle">
<text transform="translate(135.10,-23.80) scale(1,0.92)">(e) Controls: lags of Macro Variables</text>
<text transform="translate(135.10,-12.80) scale(1,0.92)">lags of non-Tax Topics</text>
<text transform="translate(135.10,-1.80) scale(1,0.92)">lags and contemp. values of exog. Tax Changes</text>
</g>
</g>
<rect x="1181.2" y="607.5" width="236.8" height="202.3" fill="none" stroke="#1ee3ee" stroke-width="1.4"/>
<line x1="1357.4" y1="565.4" x2="1357.4" y2="830.7" stroke="#ffff00" stroke-width="1.7"/>
<circle cx="1357.40" cy="690.00" r="3.3" fill="#000"/>
<path d="M1354.40,680.35l6,6M1354.40,686.35l6,-6" stroke="#ff1010" stroke-width="1.8"/>
<text x="1305.2" y="560.0" text-anchor="middle" font-family="'Liberation Sans', sans-serif" font-size="13.5" fill="#000">e</text>
<g transform="translate(854.4,799.84) scale(0.8564,0.8858)">
<clipPath id="cp10"><rect x="0" y="0" width="270.2" height="220.8"/></clipPath>
<g clip-path="url(#cp10)">
<polygon points="0.00,132.18 13.51,122.91 27.02,129.59 40.53,99.62 54.04,96.17 67.55,60.59 81.06,70.73 94.57,54.77 108.08,38.60 121.59,15.09 135.10,15.96 148.61,25.23 162.12,46.14 175.63,51.97 189.14,32.78 202.65,59.94 216.16,48.73 229.67,68.14 243.18,54.77 256.69,55.20 270.20,58.65 270.20,164.74 256.69,165.60 243.18,161.07 229.67,172.28 216.16,149.64 202.65,162.15 189.14,130.02 175.63,150.29 162.12,145.55 148.61,122.91 135.10,115.58 121.59,112.12 108.08,130.88 94.57,148.13 81.06,168.19 67.55,155.68 54.04,191.48 40.53,190.18 27.02,210.23 13.51,186.95 0.00,185.65" fill="#e3e3e3"/>
<polygon points="0.00,144.90 13.51,140.80 27.02,155.68 40.53,128.94 54.04,126.79 67.55,90.78 81.06,100.91 94.57,80.00 108.08,66.63 121.59,42.69 135.10,45.28 148.61,51.97 162.12,74.82 175.63,78.92 189.14,59.51 202.65,89.48 216.16,77.41 229.67,94.23 243.18,82.80 256.69,83.45 270.20,84.53 270.20,136.28 256.69,136.28 243.18,134.33 229.67,145.55 216.16,124.63 202.65,138.00 189.14,106.73 175.63,126.36 162.12,122.91 148.61,98.76 135.10,90.78 121.59,88.19 108.08,112.12 94.57,130.02 81.06,149.64 67.55,134.77 54.04,173.58 40.53,174.87 27.02,196.22 13.51,173.58 0.00,173.58" fill="#c0c0c0"/>
<line x1="0" y1="125.49" x2="270.2" y2="125.49" stroke="#858585" stroke-width="1"/>
<polyline points="0.00,152.88 13.51,164.31 27.02,187.38 40.53,178.32 54.04,166.46 67.55,127.87 81.06,122.04 94.57,120.97 108.08,103.93 121.59,86.68 135.10,76.98 148.61,68.14 162.12,89.70 175.63,90.35 189.14,79.78 202.65,79.13 216.16,72.67 229.67,86.68 243.18,79.13 256.69,81.94 270.20,81.72" fill="none" stroke="#a8192b" stroke-width="2" stroke-dasharray="5.5,4.2" stroke-linejoin="round"/>
<polyline points="0.00,159.35 13.51,157.62 27.02,177.03 40.53,152.23 54.04,149.64 67.55,113.42 81.06,124.63 94.57,106.73 108.08,88.19 121.59,64.90 135.10,67.49 148.61,75.47 162.12,98.76 175.63,103.28 189.14,82.80 202.65,112.99 216.16,100.70 229.67,120.10 243.18,108.67 256.69,109.75 270.20,110.18" fill="none" stroke="#111" stroke-width="1.8" stroke-linejoin="round"/>
</g>
<rect x="0" y="0" width="270.2" height="220.8" fill="none" stroke="#9a9a9a" stroke-width="1"/>
<path d="M0,211.74h3M270.2,211.74h-3M0,190.18h3M270.2,190.18h-3M0,168.62h3M270.2,168.62h-3M0,147.06h3M270.2,147.06h-3M0,125.49h3M270.2,125.49h-3M0,103.93h3M270.2,103.93h-3M0,82.37h3M270.2,82.37h-3M0,60.81h3M270.2,60.81h-3M0,39.24h3M270.2,39.24h-3M0,17.68h3M270.2,17.68h-3M0.00,220.8v-3M0.00,0v3M67.55,220.8v-3M67.55,0v3M135.10,220.8v-3M135.10,0v3M202.65,220.8v-3M202.65,0v3M270.20,220.8v-3M270.20,0v3" stroke="#8a8a8a" stroke-width="1" fill="none"/>
<g font-family="'DejaVu Sans', sans-serif" font-size="10" fill="#4a4a4a">
<text transform="translate(-1.2,215.19) scale(1,0.92)" text-anchor="end">-4</text>
<text transform="translate(-1.2,193.63) scale(1,0.92)" text-anchor="end">-3</text>
<text transform="translate(-1.2,172.07) scale(1,0.92)" text-anchor="end">-2</text>
<text transform="translate(-1.2,150.51) scale(1,0.92)" text-anchor="end">-1</text>
<text transform="translate(-1.2,128.94) scale(1,0.92)" text-anchor="end">0</text>
<text transform="translate(-1.2,107.38) scale(1,0.92)" text-anchor="end">1</text>
<text transform="translate(-1.2,85.82) scale(1,0.92)" text-anchor="end">2</text>
<text transform="translate(-1.2,64.26) scale(1,0.92)" text-anchor="end">3</text>
<text transform="translate(-1.2,42.69) scale(1,0.92)" text-anchor="end">4</text>
<text transform="translate(-1.2,21.13) scale(1,0.92)" text-anchor="end">5</text>
<text transform="translate(0.00,233.10) scale(1,0.92)" text-anchor="middle">0</text>
<text transform="translate(67.55,233.10) scale(1,0.92)" text-anchor="middle">5</text>
<text transform="translate(135.10,233.10) scale(1,0.92)" text-anchor="middle">10</text>
<text transform="translate(202.65,233.10) scale(1,0.92)" text-anchor="middle">15</text>
<text transform="translate(270.20,233.10) scale(1,0.92)" text-anchor="middle">20</text>
<text transform="translate(135.10,243.10) scale(1,0.92)" text-anchor="middle">Quarters</text>
<text transform="translate(-14.6,111.40) scale(1.0,0.95) rotate(-90)" text-anchor="middle">Percent</text>
</g>
<g font-family="'DejaVu Sans', sans-serif" font-size="10" font-weight="bold" fill="#111" text-anchor="middle">
<text transform="translate(135.10,-22.70) scale(1,0.92)">(f) Controls: lags of Macro Variables</text>
<text transform="translate(135.10,-11.70) scale(1,0.92)">lags of non-Tax Topics</text>
<text transform="translate(135.10,-0.70) scale(1,0.92)">leads and lags of exog. Tax Changes</text>
</g>
</g>
<rect x="849.6" y="800.7" width="236.8" height="196.1" fill="none" stroke="#1ee3ee" stroke-width="1.4"/>
<line x1="1026.5" y1="752.7" x2="1026.5" y2="1017.0" stroke="#ffff00" stroke-width="1.7"/>
<circle cx="1026.50" cy="899.92" r="3.3" fill="#000"/>
<path d="M1023.50,866.93l6,6M1023.50,872.93l6,-6" stroke="#ff1010" stroke-width="1.8"/>
<text x="951.5" y="747.0" text-anchor="middle" font-family="'Liberation Sans', sans-serif" font-size="13.5" fill="#777">f</text>
<path d="M725.1,574.1H768V580.5H725.1Z" fill="url(#ag)"/>
<path d="M752,566.1 L770.5,577.35 L752,588.6" fill="none" stroke="url(#ag)" stroke-width="6.2" stroke-linecap="round" stroke-linejoin="miter" stroke-miterlimit="10"/>
<g><rect x="1128.5" y="890.5" width="37.5" height="37.5" rx="8" fill="url(#cg)" stroke="#1f9f1f" stroke-width="1"/><path d="M1134.4,907.2 L1138.9,907.2 L1143.9,914.7 L1154.3,897.3 L1159,897.3 L1143.9,922.3 Z" fill="#fff"/></g>
</svg>
<div class="t" style="top:5.5px"><span class="c">在</span>Quarter<span class="c">数为</span> 15 <span class="c">时，红色虚线和黑色实线之间的百分比差距在哪一个子图</span><span class="dh" style="width:33px"><span>—</span></span><span class="dh" style="width:27.6px"><span>—</span></span>(a)<span class="c cm">、</span>(b)<span class="c cm">、</span>(c)<span class="c cm">、</span></div><div class="t" style="top:45.8px">(d)<span class="c cm">、</span>(e)<span style="word-spacing:-4.5px"> </span><span class="c">还是</span><span style="word-spacing:-3px"> </span>(f)<span class="dh" style="width:33.5px"><span>—</span></span><span class="dh" style="width:33px"><span>—</span></span><span class="c">中最大？</span></div>
<div class="lab" style="left:248px;letter-spacing:0.1px">Input Image</div><div class="lab" style="left:976px"><span style="letter-spacing:-1.5px">SWE</span><span class="hy"><span>-</span></span><span style="letter-spacing:0.15px">Vision Output</span></div>
</body></html>
